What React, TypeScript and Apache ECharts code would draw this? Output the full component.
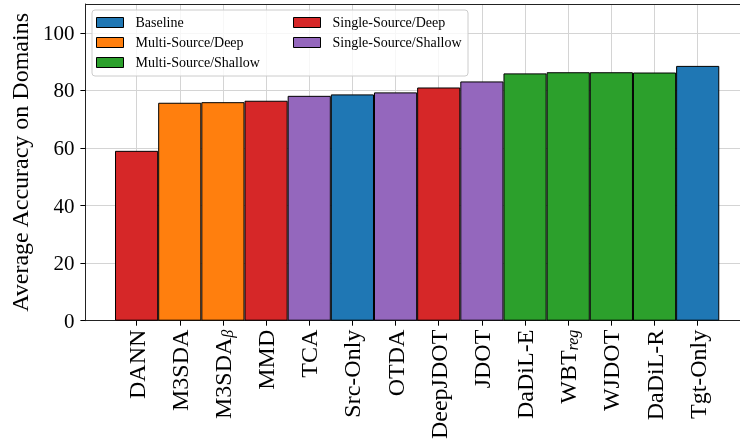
import React, { useEffect, useRef } from "react";
import * as echarts from "echarts";

const categories = ["DANN", "M3SDA", "M3SDA_beta", "MMD", "TCA", "Src-Only", "OTDA", "DeepJDOT", "JDOT", "DaDiL-E", "WBT_reg", "WJDOT", "DaDiL-R", "Tgt-Only"];
const values = [59.0, 75.7, 75.9, 76.4, 78.1, 78.6, 79.3, 81.0, 83.1, 85.9, 86.3, 86.3, 86.2, 88.5];
const groupOf = ["Single-Source/Deep", "Multi-Source/Deep", "Multi-Source/Deep", "Single-Source/Deep", "Single-Source/Shallow", "Baseline", "Single-Source/Shallow", "Single-Source/Deep", "Single-Source/Shallow", "Multi-Source/Shallow", "Multi-Source/Shallow", "Multi-Source/Shallow", "Multi-Source/Shallow", "Baseline"];
const groups = ["Baseline", "Multi-Source/Deep", "Multi-Source/Shallow", "Single-Source/Deep", "Single-Source/Shallow"];
const groupColors = ["#1f77b4", "#ff7f0e", "#2ca02c", "#d62728", "#9467bd"];
const yTicks = [0, 20, 40, 60, 80, 100];

const FONT = "'Liberation Serif', 'DejaVu Serif', serif";

export default function App() {
  const ref = useRef<HTMLDivElement>(null);
  useEffect(() => {
    if (!ref.current) return;
    const chart = echarts.init(ref.current, null, { renderer: "svg" });
    const series = groups.map((g, gi) => ({
      name: g,
      type: "bar",
      xAxisIndex: 0,
      yAxisIndex: 0,
      stack: "all",
      barWidth: "100%",
      clip: false,
      itemStyle: { color: groupColors[gi], borderColor: "#000", borderWidth: 1 },
      data: values.map((v, i) => (groupOf[i] === g ? v : "-")),
    }));
    const labelFmt = (name: string) => {
      if (name === "M3SDA_beta") return "{n|M3SDA}{s|β}";
      if (name === "WBT_reg") return "{n|WBT}{s|reg}";
      return "{n|" + name + "}";
    };
    const legendCommon = {
      orient: "vertical",
      top: 11,
      padding: [4, 4, 4, 4],
      itemGap: 5,
      itemWidth: 27,
      itemHeight: 10,
      icon: "rect",
      itemStyle: { borderColor: "#000", borderWidth: 1 },
      textStyle: { fontFamily: FONT, fontSize: 14, color: "#000", padding: [0, 0, 0, 7], lineHeight: 15 },
      selectedMode: false,
    };
    chart.setOption({
      animation: false,
      grid: [
        { left: 136.6, right: 42.3, top: 4, bottom: 124.3 },
        { left: 85, right: -12, top: 4, bottom: 124.3 },
      ],
      xAxis: [
        {
          type: "category",
          gridIndex: 0,
          data: categories,
          boundaryGap: false,
          axisLine: { show: false },
          axisTick: { show: true, interval: 0, length: 5, lineStyle: { color: "#000" } },
          splitLine: { show: true, interval: 0, lineStyle: { color: "#d4d4d4", width: 1 } },
          axisLabel: {
            interval: 0,
            rotate: 90,
            margin: 9,
            formatter: labelFmt,
            rich: {
              n: { fontFamily: FONT, fontSize: 24, color: "#000" },
              s: { fontFamily: FONT, fontSize: 16, fontStyle: "italic", color: "#000", verticalAlign: "bottom", padding: [9, 0, 0, 0] },
            },
          },
        },
        {
          type: "value",
          gridIndex: 1,
          min: 0,
          max: 1,
          axisLine: { show: true, onZero: false, lineStyle: { color: "#222", width: 1 } },
          axisTick: { show: false },
          axisLabel: { show: false },
          splitLine: { show: false },
        },
        {
          type: "value",
          gridIndex: 1,
          position: "top",
          min: 0,
          max: 1,
          axisLine: { show: true, onZero: false, lineStyle: { color: "#222", width: 1 } },
          axisTick: { show: false },
          axisLabel: { show: false },
          splitLine: { show: false },
        },
      ],
      yAxis: [
        {
          type: "value",
          gridIndex: 0,
          min: 0,
          max: 110,
          show: false,
          splitLine: { show: false },
        },
        {
          type: "value",
          gridIndex: 1,
          min: 0,
          max: 110,
          interval: 20,
          name: "Average Accuracy on Domains",
          nameLocation: "middle",
          nameGap: 51,
          nameTextStyle: { fontFamily: FONT, fontSize: 24, color: "#000" },
          axisLine: { show: true, onZero: false, lineStyle: { color: "#222", width: 1 } },
          axisTick: { show: true, length: 5, customValues: yTicks, lineStyle: { color: "#000" } },
          axisLabel: {
            margin: 11,
            customValues: yTicks,
            fontFamily: FONT,
            fontSize: 21,
            color: "#000",
          },
          splitLine: { show: true, lineStyle: { color: "#d4d4d4", width: 1 } },
        },
      ],
      graphic: [
        {
          type: "rect",
          z: 3,
          shape: { x: 92, y: 10, width: 376, height: 66, r: 3 },
          style: { fill: "rgba(255,255,255,0.8)", stroke: "#cccccc", lineWidth: 1 },
        },
      ],
      legend: [
        { ...legendCommon, data: groups.slice(0, 3), left: 92 },
        { ...legendCommon, data: groups.slice(3), left: 289 },
      ],
      series,
    });
    return () => chart.dispose();
  }, []);
  return <div ref={ref} style={{ position: "fixed", left: 0, top: 0, width: 740, height: 445 }} />;
}
